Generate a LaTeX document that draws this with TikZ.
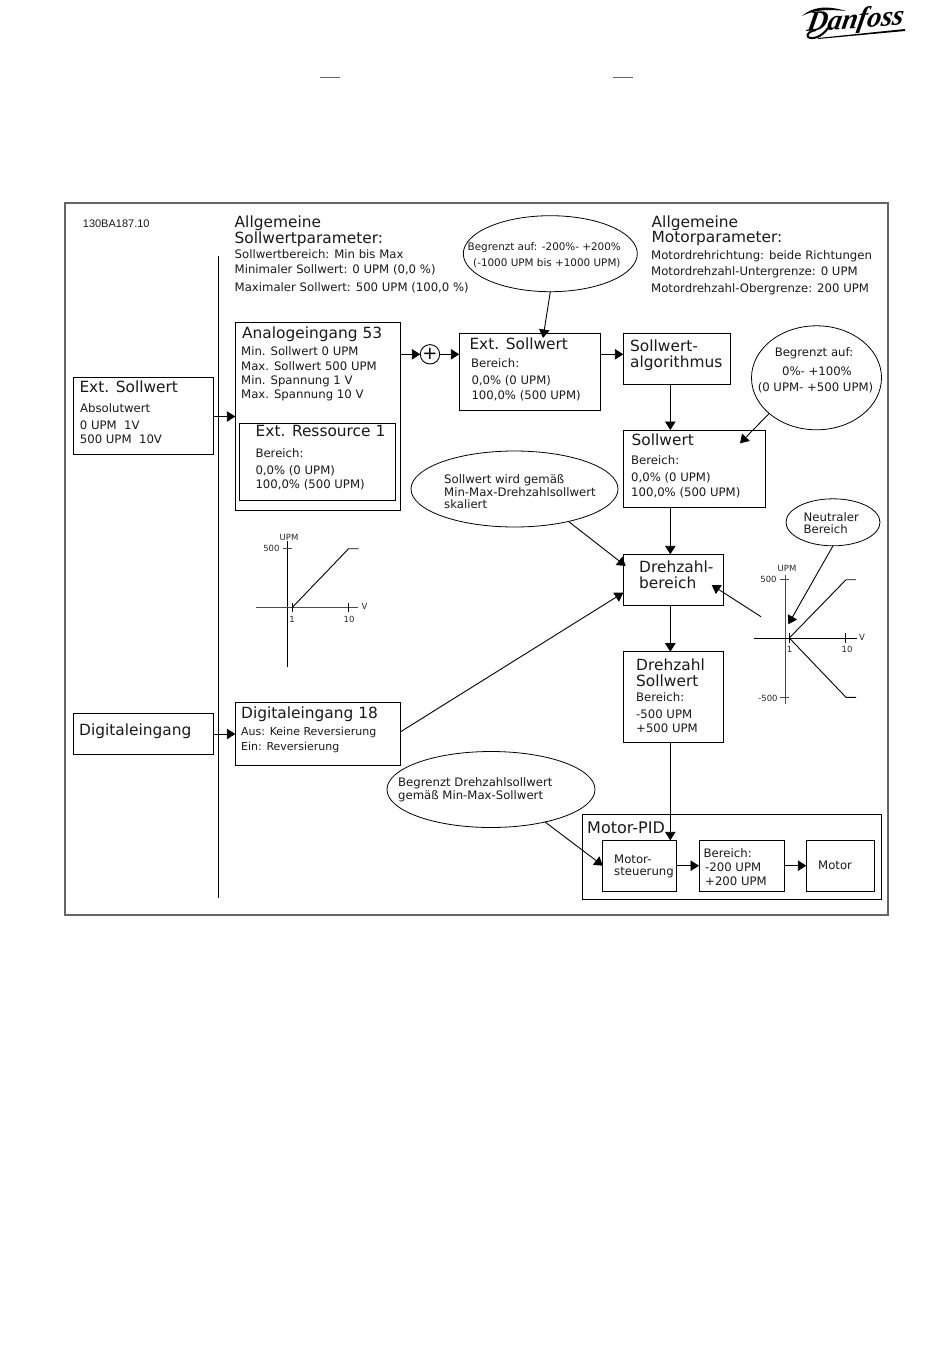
\documentclass[tikz,border=0pt]{standalone}
\usepackage{fontspec}
\setmainfont{DejaVu Sans}
\newfontfamily\labelfont{Liberation Sans}
\newfontfamily\logofont{Liberation Serif}
\usetikzlibrary{arrows.meta,shapes.geometric}
\tikzset{
    box/.style={draw=black, line width=0.9pt, anchor=north west, inner sep=0pt, outer sep=0pt},
    bubble/.style={draw=black, line width=0.8pt, ellipse, inner sep=0pt, outer sep=0pt},
    arr/.style={line width=0.9pt, -{Triangle[length=8.5pt,width=10.5pt]}},
    line/.style={line width=0.9pt},
    axis/.style={line width=0.9pt, black!70},
    titletxt/.style={anchor=base west, inner sep=0pt, yshift=-5.5pt, text=black!90, font=\fontsize{15.4}{17}\selectfont},
    smalltxt/.style={anchor=base west, inner sep=0pt, yshift=-4.2pt, text=black!90, font=\fontsize{11.7}{13}\selectfont},
    tighttxt/.style={smalltxt, font=\fontsize{10.4}{12}\selectfont},
    digtxt/.style={smalltxt, font=\fontsize{11}{12}\selectfont},
    ticktxt/.style={inner sep=0pt, text=black!85, font=\fontsize{8.5}{10}\selectfont},
}
\begin{document}
\begin{tikzpicture}[x=1pt, y=-1pt]
    \useasboundingbox (0,0) rectangle (950,1360);

    % Logo and page marks
    \node[inner sep=0pt, rotate=4, xslant=0.25, font=\logofont\bfseries\itshape\fontsize{28.5}{30}\selectfont] (logo) at (855.5,21) {Danfoss};
    \fill[black] (802,16) .. controls (812,7) and (826,5) .. (846,11) .. controls (826,9) and (814,10) .. (802,16);
    \draw[black, line width=2pt] (828,28) .. controls (822,37) and (812,40) .. (808,37) .. controls (806,34) and (810,31) .. (816,30);
    \fill[black] (818,38) -- (905,29) -- (905,31) -- (818,39) -- cycle;
    \draw[black!60, line width=0.9pt] (320,77) -- (340,77);
    \draw[black!60, line width=0.9pt] (613,77) -- (633,77);

    % Frame and divider
    \draw[black!60, line width=1.3pt] (65,203) rectangle (888,915);
    \draw[line] (218.5,256) -- (218.5,898);

    % Header texts
    \node[inner sep=0pt, anchor=west, text=black!90, font=\labelfont\fontsize{11}{12}\selectfont] (docno) at (82.7,223.5) {130BA187.10};
    \node[titletxt] (genrefa) at (234.5,221.5) {Allgemeine};
    \node[titletxt] (genrefb) at (234.5,237.5) {Sollwertparameter:};
    \node[smalltxt] (genrefc) at (234.5,254) {Sollwertbereich: Min bis Max};
    \node[smalltxt] (genrefd) at (234.5,269) {Minimaler Sollwert: 0 UPM (0,0 \%)};
    \node[smalltxt] (genrefe) at (234.5,287) {Maximaler Sollwert: 500 UPM (100,0 \%)};
    \node[titletxt] (genmota) at (651.5,221.5) {Allgemeine};
    \node[titletxt] (genmotb) at (651.5,237) {Motorparameter:};
    \node[smalltxt] (genmotc) at (651,255.5) {Motordrehrichtung: beide Richtungen};
    \node[smalltxt] (genmotd) at (651,271.5) {Motordrehzahl-Untergrenze: 0 UPM};
    \node[smalltxt] (genmote) at (651,288) {Motordrehzahl-Obergrenze: 200 UPM};

    % Boxes
    \node[box, minimum width=140.4pt, minimum height=77.4pt] (extin) at (73.3,377.3) {};
    \node[box, minimum width=165.4pt, minimum height=188.4pt] (analog) at (235.3,322.3) {};
    \node[box, minimum width=156.4pt, minimum height=77pt] (resource) at (239.3,423.3) {};
    \node[box, minimum width=141pt, minimum height=77pt] (extref) at (459.3,333.3) {};
    \node[box, minimum width=107.4pt, minimum height=51.3pt] (algo) at (623.3,333) {};
    \node[box, minimum width=142pt, minimum height=77.3pt] (setpoint) at (623.3,430) {};
    \node[box, minimum width=100pt, minimum height=51pt] (speedrange) at (623.3,554.3) {};
    \node[box, minimum width=100pt, minimum height=91pt] (speedset) at (623.3,651.7) {};
    \node[box, minimum width=140.4pt, minimum height=41pt] (digin) at (73.3,713.3) {};
    \node[box, minimum width=165.4pt, minimum height=63pt] (digital) at (235.3,702.3) {};
    \node[box, minimum width=299.5pt, minimum height=85pt] (pid) at (582.3,814.3) {};
    \node[box, minimum width=73.6pt, minimum height=51pt] (motctl) at (602.7,840.3) {};
    \node[box, minimum width=85.3pt, minimum height=51pt] (motrange) at (699,840.3) {};
    \node[box, minimum width=68pt, minimum height=51pt] (motor) at (806.3,840.3) {};

    % Bubbles
    \node[bubble, minimum width=174pt, minimum height=76pt] (limtop) at (550.3,253.7) {};
    \node[bubble, minimum width=130pt, minimum height=104pt] (limright) at (816.5,377.8) {};
    \node[bubble, minimum width=207pt, minimum height=76pt] (scaled) at (514.5,489) {};
    \node[bubble, minimum width=94pt, minimum height=47pt] (neutral) at (833,522.3) {};
    \node[bubble, minimum width=208pt, minimum height=76pt] (limspeed) at (491,789.5) {};
    \node[draw=black, line width=0.9pt, circle, minimum size=19.4pt, inner sep=0pt, outer sep=0pt, font=\fontsize{18}{18}\selectfont] (sum) at (430,354.3) {+};

    % Box texts
    \node[titletxt] (extina) at (79.3,386.7) {Ext. Sollwert};
    \node[smalltxt] (extinb) at (80,408.3) {Absolutwert};
    \node[smalltxt] (extinc) at (79.7,425.5) {0 UPM\ \ 1V};
    \node[smalltxt] (extind) at (79.7,439.7) {500 UPM\ \ 10V};
    \node[titletxt] (analoga) at (242,332.5) {Analogeingang 53};
    \node[smalltxt] (analogb) at (241,351) {Min. Sollwert 0 UPM};
    \node[smalltxt] (analogc) at (241,366) {Max. Sollwert 500 UPM};
    \node[smalltxt] (analogd) at (241,380) {Min. Spannung 1 V};
    \node[smalltxt] (analoge) at (241,394.3) {Max. Spannung 10 V};
    \node[titletxt] (resa) at (255.5,431) {Ext. Ressource 1};
    \node[smalltxt] (resb) at (255.3,453) {Bereich:};
    \node[smalltxt] (resc) at (255.3,470) {0,0\% (0 UPM)};
    \node[smalltxt] (resd) at (255.3,484.7) {100,0\% (500 UPM)};
    \node[titletxt] (extrefa) at (469.3,344) {Ext. Sollwert};
    \node[smalltxt] (extrefb) at (471,363.5) {Bereich:};
    \node[smalltxt] (extrefc) at (471.3,380.3) {0,0\% (0 UPM)};
    \node[smalltxt] (extrefd) at (471.3,395) {100,0\% (500 UPM)};
    \node[titletxt] (algoa) at (630,346) {Sollwert-};
    \node[titletxt] (algob) at (630,362) {algorithmus};
    \node[titletxt] (seta) at (631.5,439.5) {Sollwert};
    \node[smalltxt] (setb) at (631,460) {Bereich:};
    \node[smalltxt] (setc) at (631,477.5) {0,0\% (0 UPM)};
    \node[smalltxt] (setd) at (631,492) {100,0\% (500 UPM)};
    \node[titletxt] (rangea) at (639,567) {Drehzahl-};
    \node[titletxt] (rangeb) at (639,583) {bereich};
    \node[titletxt] (speeda) at (636,664.5) {Drehzahl};
    \node[titletxt] (speedb) at (636,681) {Sollwert};
    \node[smalltxt] (speedc) at (636,697) {Bereich:};
    \node[smalltxt] (speedd) at (636,714) {-500 UPM};
    \node[smalltxt] (speede) at (636,728.5) {+500 UPM};
    \node[titletxt] (digina) at (79,730) {Digitaleingang};
    \node[titletxt] (digitala) at (241,713) {Digitaleingang 18};
    \node[digtxt] (digitalb) at (241,731) {Aus: Keine Reversierung};
    \node[digtxt] (digitalc) at (241,746) {Ein: Reversierung};
    \node[titletxt, font=\fontsize{16}{17}\selectfont] (pida) at (587,827.5) {Motor-PID};
    \node[smalltxt] (ctla) at (614,859) {Motor-};
    \node[smalltxt] (ctlb) at (614,871) {steuerung};
    \node[smalltxt] (mra) at (703.5,853) {Bereich:};
    \node[smalltxt] (mrb) at (705,867) {-200 UPM};
    \node[smalltxt] (mrc) at (705,881.5) {+200 UPM};
    \node[smalltxt] (mota) at (818,865) {Motor};

    % Bubble texts
    \node[tighttxt] (limtopa) at (467.5,246) {Begrenzt auf: -200\%- +200\%};
    \node[tighttxt] (limtopb) at (473,262) {(-1000 UPM bis +1000 UPM)};
    \node[smalltxt, anchor=base] (limra) at (814,352) {Begrenzt auf:};
    \node[smalltxt, anchor=base] (limrb) at (817,371.5) {0\%- +100\%};
    \node[smalltxt, anchor=base] (limrc) at (815.5,387.5) {(0 UPM- +500 UPM)};
    \node[smalltxt] (scaleda) at (444,479.5) {Sollwert wird gemäß};
    \node[smalltxt] (scaledb) at (444,492) {Min-Max-Drehzahlsollwert};
    \node[smalltxt] (scaledc) at (444,504) {skaliert};
    \node[smalltxt] (neutrala) at (803.5,517.5) {Neutraler};
    \node[smalltxt] (neutralb) at (803.5,529.5) {Bereich};
    \node[smalltxt] (limspa) at (398,782.5) {Begrenzt Drehzahlsollwert};
    \node[smalltxt] (limspb) at (398,795) {gemäß Min-Max-Sollwert};

    % Connector helpers
    \coordinate (xmain) at (670.3,0);
    \coordinate (yext) at (0,416.5);
    \coordinate (ysum) at (0,354.3);
    \coordinate (ydig) at (0,734);
    \coordinate (ymot) at (0,865.7);
    \coordinate (tiptop) at (543,338);
    \coordinate (tipset) at (740,443.3);
    \coordinate (tipscaled) at (625.7,566);
    \coordinate (tipdig) at (623.3,592.7);
    \coordinate (tipgraph) at (711.7,585);
    \coordinate (startgraph) at (761,616.7);
    \coordinate (tipneutral) at (788.3,624.3);
    \coordinate (tipspeed) at (602.9,865.7);
    \coordinate (startdig) at (400.7,731.7);

    % Connectors
    \draw[arr] (extin.east |- yext) -- (analog.west |- yext);
    \draw[arr] (digin.east |- ydig) -- (digital.west |- ydig);
    \draw[arr] (analog.east |- ysum) -- (sum.west);
    \draw[arr] (sum.east) -- (extref.west |- ysum);
    \draw[arr] (extref.east |- ysum) -- (algo.west |- ysum);
    \draw[arr] (algo.south -| xmain) -- (setpoint.north -| xmain);
    \draw[arr] (setpoint.south -| xmain) -- (speedrange.north -| xmain);
    \draw[arr] (speedrange.south -| xmain) -- (speedset.north -| xmain);
    \draw[arr] (speedset.south -| xmain) -- (motctl.north -| xmain);
    \draw[arr] (motctl.east |- ymot) -- (motrange.west |- ymot);
    \draw[arr] (motrange.east |- ymot) -- (motor.west |- ymot);
    \draw[arr] (limtop.south) -- (tiptop);
    \draw[arr] (limright.217) -- (tipset);
    \draw[arr] (scaled.-31.5) -- (tipscaled);
    \draw[arr] (startdig) -- (tipdig);
    \draw[arr] (startgraph) -- (tipgraph);
    \draw[arr] (neutral.south) -- (tipneutral);
    \draw[arr] (limspeed.-31) -- (tipspeed);

    % Left graph
    \draw[line] (287.5,541) -- (287.5,666.7);
    \draw[axis] (256.4,607.7) -- (358,607.7);
    \draw[axis] (283,548.7) -- (291.5,548.7);
    \draw[line] (292,603) -- (292,612);
    \draw[line] (348.6,603) -- (348.6,612);
    \draw[line] (292,607.7) -- (348.6,548.7) -- (358.5,548.7);
    \node[ticktxt] (lupm) at (289,537.5) {UPM};
    \node[ticktxt] (lfive) at (271.4,548.7) {500};
    \node[ticktxt] (lone) at (292,619) {1};
    \node[ticktxt] (lten) at (349,619) {10};
    \node[ticktxt] (lvolt) at (364.5,606.5) {V};

    % Right graph
    \draw[axis] (785,575) -- (785,704.3);
    \draw[line] (754,638) -- (856.7,638);
    \draw[axis] (780,579.7) -- (789,579.7);
    \draw[axis] (780,697.7) -- (789,697.7);
    \draw[line] (789.3,633) -- (789.3,643);
    \draw[line] (845.7,633) -- (845.7,643);
    \draw[line] (789.3,638) -- (846,579.7) -- (856,579.7);
    \draw[line] (789.3,638) -- (846,697.3) -- (856,697.3);
    \node[ticktxt] (rupm) at (787,568) {UPM};
    \node[ticktxt] (rfive) at (768.5,579.7) {500};
    \node[ticktxt] (rneg) at (768,698) {-500};
    \node[ticktxt] (rone) at (789.5,649.5) {1};
    \node[ticktxt] (rten) at (847,649.7) {10};
    \node[ticktxt] (rvolt) at (862,637) {V};
\end{tikzpicture}
\end{document}
